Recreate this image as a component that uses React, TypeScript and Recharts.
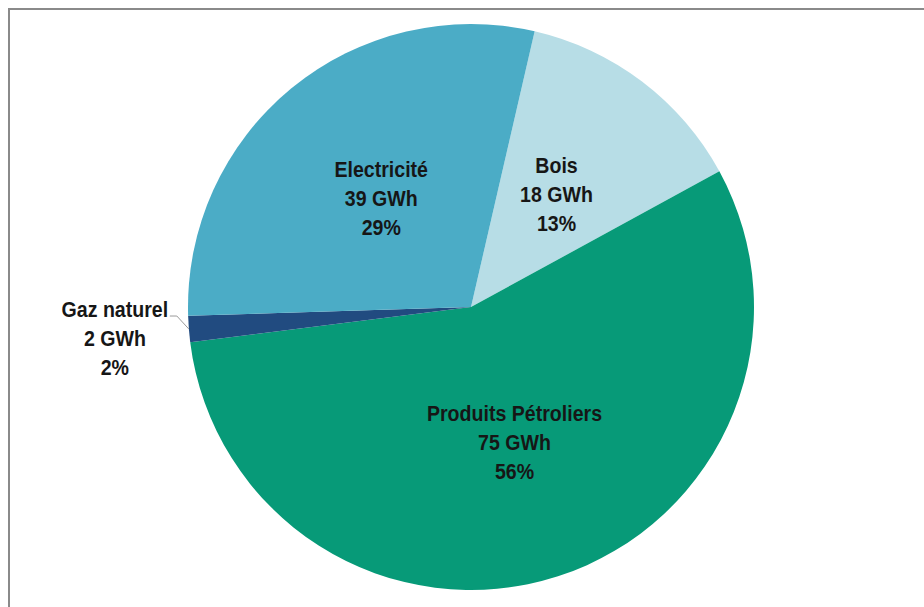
import React from "react";
import { PieChart, Pie, Cell } from "recharts";

const categories = ["Bois", "Produits Pétroliers", "Gaz naturel", "Electricité"];
const valuesGWh = [18, 75, 2, 39];
const percentLabels = ["13%", "56%", "2%", "29%"];
const colors = ["#B7DDE6", "#079A78", "#214B80", "#4BACC6"];

const data = categories.map((name, i) => ({
  name,
  value: valuesGWh[i],
  pct: percentLabels[i],
}));

const RADIAN = Math.PI / 180;
const FONT = "'Liberation Sans', Arial, sans-serif";

const LabelBlock = ({ x, y, lines }: { x: number; y: number; lines: string[] }) => (
  <g transform={`translate(${x},${y}) scale(0.89,1)`}>
    <text
      x={0}
      y={0}
      textAnchor="middle"
      fill="#161616"
      style={{ fontFamily: FONT, fontWeight: 700, fontSize: 22 }}
    >
      {lines.map((l, i) => (
        <tspan key={i} x={0} dy={i === 0 ? 0 : 29}>
          {l}
        </tspan>
      ))}
    </text>
  </g>
);

const renderLabel = (props: any) => {
  const { cx, cy, midAngle, outerRadius, index } = props;
  const d = data[index];
  const lines = [d.name, `${d.value} GWh`, d.pct];
  if (d.value < 5) {
    const ex = cx + outerRadius * Math.cos(-midAngle * RADIAN);
    const ey = cy + outerRadius * Math.sin(-midAngle * RADIAN);
    const bx = ex - 12;
    const by = ey - 13;
    const tx = bx - 7;
    const centerX = tx - 55;
    return (
      <g>
        <polyline
          points={`${ex},${ey} ${bx},${by} ${tx},${by}`}
          fill="none"
          stroke="#9a9a9a"
          strokeWidth={1}
        />
        <LabelBlock x={centerX} y={by + 1} lines={lines} />
      </g>
    );
  }
  const r = outerRadius * 0.5;
  const x = cx + r * Math.cos(-midAngle * RADIAN);
  const y = cy + r * Math.sin(-midAngle * RADIAN);
  return <LabelBlock x={x} y={y - 21} lines={lines} />;
};

export default function App() {
  return (
    <div
      style={{
        position: "absolute",
        left: 0,
        top: 0,
        width: 924,
        height: 607,
        background: "#fff",
        overflow: "hidden",
      }}
    >
      <div
        style={{
          position: "absolute",
          left: 8,
          top: 8,
          width: 1000,
          height: 700,
          borderTop: "2px solid #8a8a8a",
          borderLeft: "2px solid #8a8a8a",
        }}
      />
      <div style={{ position: "absolute", left: 0, top: 0 }}>
        <PieChart width={924} height={607} margin={{ top: 0, right: 0, bottom: 0, left: 0 }}>
          <Pie
            data={data}
            dataKey="value"
            nameKey="name"
            cx={471}
            cy={307}
            outerRadius={283}
            startAngle={77}
            endAngle={-283}
            stroke="none"
            label={renderLabel}
            labelLine={false}
            isAnimationActive={false}
          >
            {data.map((_, i) => (
              <Cell key={i} fill={colors[i]} stroke="none" />
            ))}
          </Pie>
        </PieChart>
      </div>
    </div>
  );
}
